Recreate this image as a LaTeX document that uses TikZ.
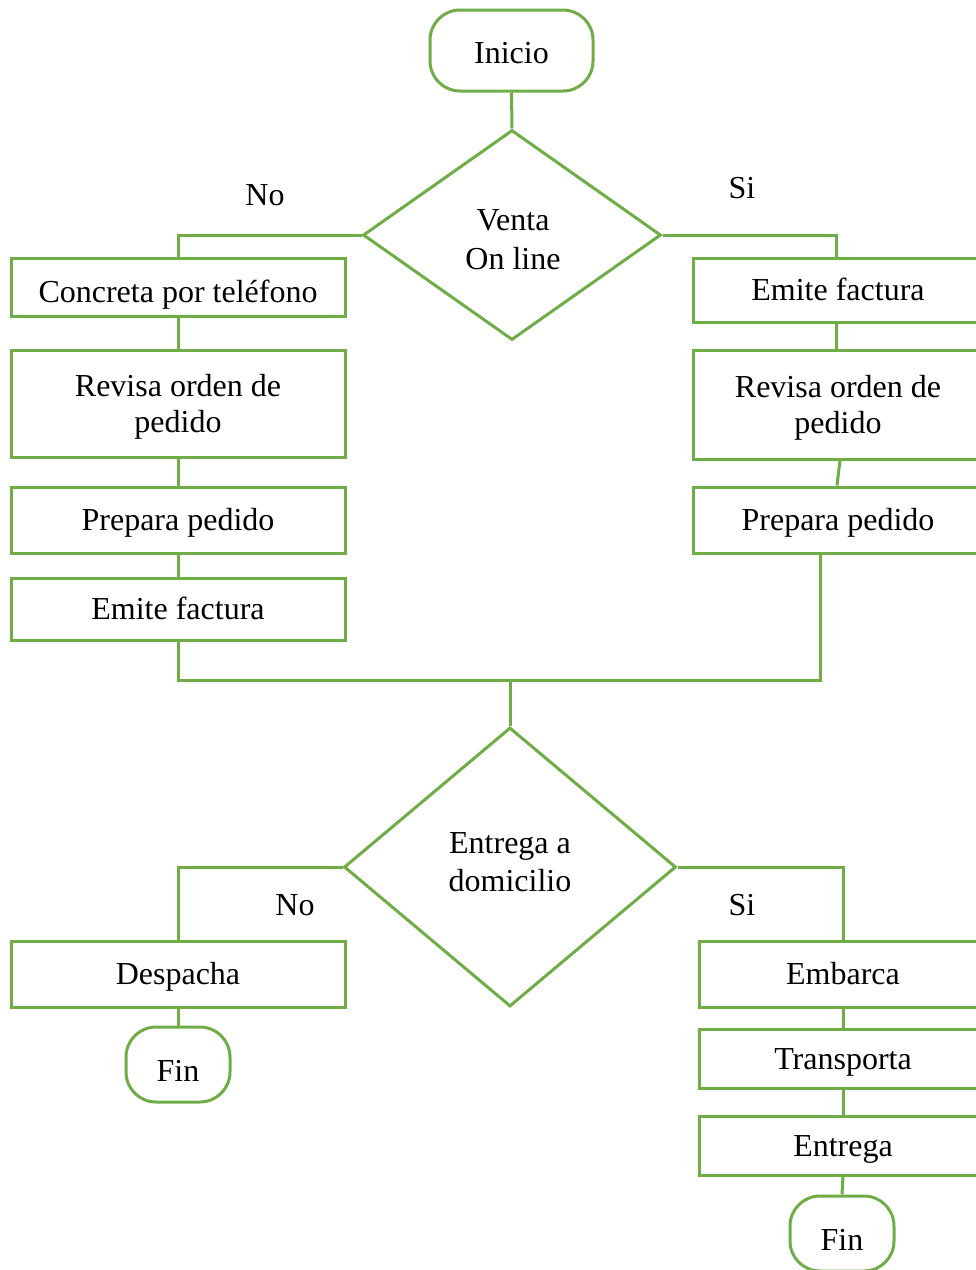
\documentclass[tikz,border=0pt]{standalone}
\usepackage{fontspec}
\setmainfont{Liberation Serif}
\usetikzlibrary{shapes.geometric,calc}
\definecolor{fgreen}{HTML}{70AD47}
\begin{document}
\begin{tikzpicture}[x=1pt,y=-1pt,
  every node/.style={font=\fontsize{32}{36}\selectfont, inner sep=0pt},
  line/.style={draw=fgreen, line width=3pt},
  proc/.style={draw=fgreen, line width=3pt, fill=white, rectangle, align=center},
  one/.style={text height=25pt, text depth=4pt},
  two/.style={text height=64pt, text depth=7pt},
  term/.style={draw=fgreen, line width=3pt, fill=white, rectangle, rounded corners=30pt, text height=22pt, text depth=7pt},
  decis/.style={draw=fgreen, line width=3pt, fill=white, diamond},
  lbl/.style={}
]
\useasboundingbox (0,0) rectangle (976,1270);
\clip (0,0) rectangle (976,1270);
\fill[white] (0,0) rectangle (976,1270);

\coordinate (m) at (510,680);

% start
\node[term, minimum width=163pt, minimum height=81pt] (ini) at (511.5,50.5) {\raisebox{-5pt}{Inicio}};

% decision 1
\node[decis, minimum width=298pt, minimum height=210pt] (d1) at (512,235) {};
\node[align=center, font=\fontsize{32}{39}\selectfont] (d1t) at (513,240) {Venta\\On line};

% left column
\node[proc, one, minimum width=334pt, minimum height=58pt] (l1) at (178,287) {\raisebox{-5pt}{Concreta por teléfono}};
\node[proc, two, minimum width=334pt, minimum height=107pt] (l2) at (178,403.5) {Revisa orden de\\pedido};
\node[proc, one, minimum width=334pt, minimum height=66pt] (l3) at (178,520) {Prepara pedido};
\node[proc, one, minimum width=334pt, minimum height=62pt] (l4) at (178,609) {Emite factura};

% right column
\node[proc, one, minimum width=290pt, minimum height=64pt] (r1) at (838,290) {Emite factura};
\node[proc, two, minimum width=290pt, minimum height=109pt] (r2) at (838,404.5) {Revisa orden de\\pedido};
\node[proc, one, minimum width=290pt, minimum height=66pt] (r3) at (838,520) {Prepara pedido};

% decision 2
\node[decis, minimum width=332pt, minimum height=279pt] (d2) at (510,867) {};
\node[align=center, font=\fontsize{32}{38}\selectfont] (d2t) at (510,862.5) {Entrega a\\domicilio};

% bottom left
\node[proc, one, minimum width=334pt, minimum height=66pt] (ld) at (178,974) {Despacha};
\node[term, minimum width=104pt, minimum height=75pt] (fl) at (178,1064.5) {\raisebox{-9pt}{Fin}};

% bottom right
\node[proc, one, minimum width=288pt, minimum height=66pt] (e1) at (843,974) {Embarca};
\node[proc, one, minimum width=288pt, minimum height=59pt] (e2) at (843,1058.5) {Transporta};
\node[proc, one, minimum width=288pt, minimum height=59pt] (e3) at (843,1145.5) {Entrega};
\node[term, minimum width=104pt, minimum height=75pt] (fr) at (842,1233.5) {\raisebox{-9pt}{Fin}};

% labels
\node[lbl] (no1) at (265,195) {No};
\node[lbl] (si1) at (742,188) {Si};
\node[lbl] (no2) at (295,905) {No};
\node[lbl] (si2) at (742,905) {Si};

% connectors
\draw[line] (ini.south) -- (d1.north);
\draw[line] (d1.west) -| (l1.north);
\draw[line] (d1.east) -| ([xshift=-2pt]r1.north);
\draw[line] (l1.south) -- (l2.north);
\draw[line] (l2.south) -- (l3.north);
\draw[line] (l3.south) -- (l4.north);
\draw[line] ([xshift=-2pt]r1.south) -- ([xshift=-2pt]r2.north);
\draw[line] ([xshift=2pt]r2.south) -- ([xshift=-1pt]r3.north);
\draw[line] (l4.south) |- (m) -| ([xshift=-18pt]r3.south);
\draw[line] (m) -- (d2.north);
\draw[line] (d2.west) -| (ld.north);
\draw[line] (d2.east) -| (e1.north);
\draw[line] (ld.south) -- (fl.north);
\draw[line] (e1.south) -- (e2.north);
\draw[line] (e2.south) -- (e3.north);
\draw[line] (e3.south) -- (fr.north);
\end{tikzpicture}
\end{document}
